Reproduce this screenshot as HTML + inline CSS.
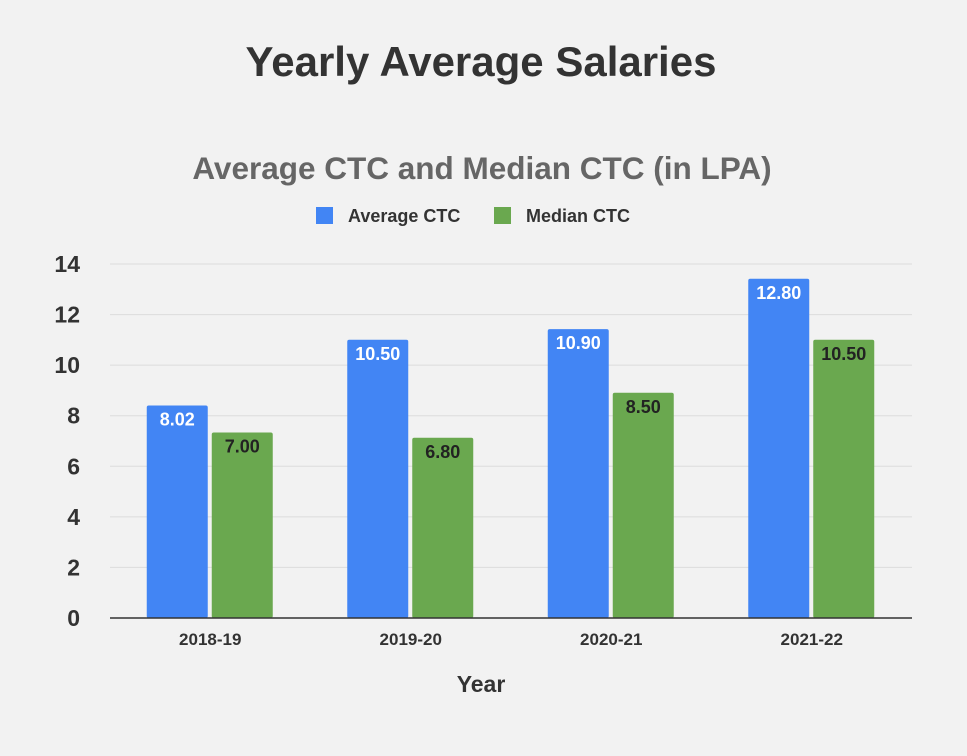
<!DOCTYPE html>
<html><head><meta charset="utf-8"><style>
body{margin:0;background:#f2f2f2;}
svg{display:block;font-family:"Liberation Sans",sans-serif;}
</style></head><body>
<svg width="967" height="756">
<rect width="967" height="756" fill="#f2f2f2"/>
<text x="481" y="76" text-anchor="middle" font-size="42" font-weight="bold" fill="#333">Yearly Average Salaries</text>
<text x="482" y="179" text-anchor="middle" font-size="31.5" font-weight="bold" fill="#666">Average CTC and Median CTC (in LPA)</text>
<g>
<g><rect x="316" y="207" width="17" height="17" fill="#4285f4"/><text x="348" y="222" font-size="18" font-weight="bold" fill="#333">Average CTC</text></g>
<g><rect x="494" y="207" width="17" height="17" fill="#6aa84f"/><text x="526" y="222" font-size="18" font-weight="bold" fill="#333">Median CTC</text></g>
</g>
<g id="plot"></g>
<text x="481" y="692" text-anchor="middle" font-size="23" font-weight="bold" fill="#333">Year</text>
</svg>
<script>
const categories=["2018-19","2019-20","2020-21","2021-22"];
const averageCTC=[8.02,10.50,10.90,12.80];
const medianCTC=[7.00,6.80,8.50,10.50];
const yTicks=[0,2,4,6,8,10,12,14];
const NS="http://www.w3.org/2000/svg";
const plot=document.getElementById('plot');
const x0=110,x1=912,y0=618,yTop=264,yMax=14;
const yAxis=v=>y0-v*(y0-yTop)/yMax;
const barH=v=>v*26.5;
const gw=(x1-x0)/categories.length;
const xCenter=i=>x0+gw*(i+0.5);
function mk(t,a,p){const e=document.createElementNS(NS,t);for(const k in a)e.setAttribute(k,a[k]);(p||plot).appendChild(e);return e;}
yTicks.forEach(v=>{
 const y=yAxis(v);
 if(v>0){const l=mk('line',{x1:x0,x2:x1,y1:y,y2:y,stroke:'#dcdcdc','stroke-width':1});
 
 }
 const t=mk('text',{x:80,y:y+8,'text-anchor':'end','font-size':23,'font-weight':'bold',fill:'#333'});
 t.textContent=v;
 
 
});
const bw=61;
function bar(v,x,color,txtColor,name){
 const h=barH(v);
 const r=mk('rect',{x:x,y:y0-h,width:bw,height:h,fill:color,rx:2});
 
 
 const t=mk('text',{x:x+bw/2,y:y0-h+20,'text-anchor':'middle','font-size':18,'font-weight':'bold',fill:txtColor});
 t.textContent=v.toFixed(2);
 
 
}
categories.forEach((c,i)=>{
 const cx=xCenter(i);
 bar(averageCTC[i],cx-33-bw/2,'#4285f4','#fff','bar-average-'+c);
 bar(medianCTC[i],cx+32-bw/2,'#6aa84f','#222','bar-median-'+c);
 const t=mk('text',{x:cx,y:645,'text-anchor':'middle','font-size':17,'font-weight':'bold',fill:'#333'});
 t.textContent=c;
 
 
});
const ax=mk('line',{x1:x0,x2:x1,y1:y0,y2:y0,stroke:'#333','stroke-width':1.5});


</script>
</body></html>
